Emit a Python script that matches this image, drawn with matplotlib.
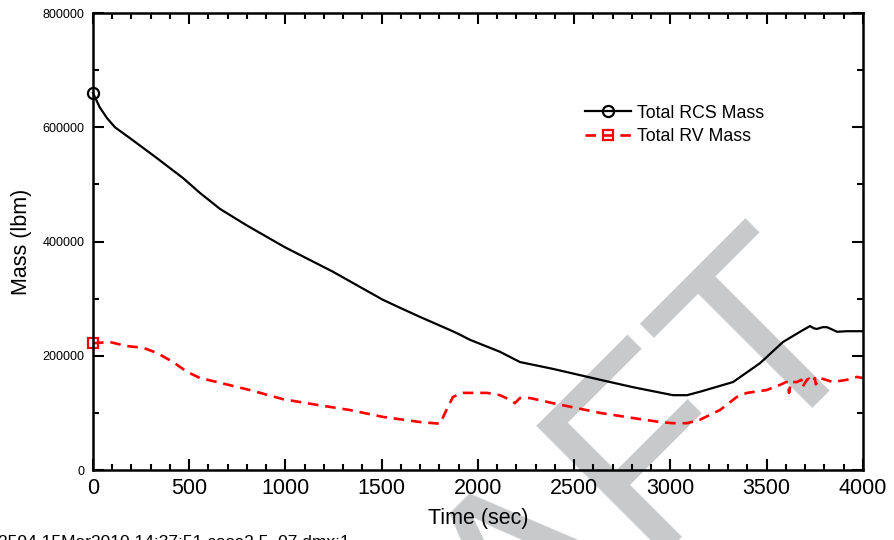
import numpy as np
import matplotlib
matplotlib.use("Agg")
import matplotlib.pyplot as plt
from matplotlib.legend_handler import HandlerLine2D
from matplotlib.lines import Line2D
from matplotlib.ticker import MultipleLocator

plt.rcParams["font.family"] = ["Liberation Sans", "DejaVu Sans"]

# Total RCS mass (lbm) vs time (sec)
rcs_time = [0, 35, 73, 114, 192, 332, 468, 556, 660, 800, 997, 1247, 1506,
            1595, 1699, 1855, 1900, 1958, 2114, 2218, 2390, 2634, 2805, 3013,
            3086, 3153, 3325, 3465, 3584, 3673, 3725, 3745, 3761, 3790, 3813,
            3840, 3865, 3917, 4000]
rcs_mass = [660000, 635000, 616000, 600000, 581000, 546000, 511000, 485000,
            457000, 428000, 390000, 347000, 298000, 284000, 268000, 245000,
            238000, 228000, 207000, 189000, 177000, 158000, 145000, 131000,
            131000, 137000, 154000, 187000, 224000, 242000, 252000, 248000,
            247000, 250000, 250000, 246000, 242000, 243000, 243000]

# Total RV mass (lbm) vs time (sec)
rv_time = [0, 88, 176, 260, 332, 416, 488, 556, 644, 815, 987, 1164, 1335,
           1506, 1699, 1803, 1829, 1870, 1922, 2047, 2114, 2166, 2192, 2218,
           2270, 2390, 2634, 2805, 2945, 3013, 3086, 3153, 3257, 3345, 3397,
           3500, 3569, 3600, 3610, 3616, 3625, 3657, 3680, 3685, 3709, 3720,
           3735, 3750, 3755, 3777, 3844, 3917, 3969, 4000]
rv_mass = [222000, 224000, 217000, 214000, 205000, 189000, 172000, 161000,
           154000, 140000, 124000, 114000, 105000, 93000, 84000, 81000, 100000,
           128000, 135000, 135000, 131000, 123000, 117000, 126000, 126000,
           117000, 100000, 91000, 84000, 82000, 82000, 88000, 105000, 128000,
           135000, 140000, 149000, 154000, 154000, 135000, 154000, 154000,
           158000, 145000, 158000, 160000, 154000, 161000, 150000, 161000,
           154000, 158000, 163000, 161000]


class EndMarkerHandler(HandlerLine2D):
    """Legend sample with the marker sitting at the right end of the line."""

    def get_xdata(self, legend, xdescent, ydescent, width, height, fontsize):
        xdata = [-xdescent, -xdescent + width]
        return xdata, [-xdescent + width]


fig = plt.figure(figsize=(8.94, 5.40), dpi=100)
ax = fig.add_axes([0.104, 0.1296, 0.8613, 0.8463])
ax.set_facecolor("none")

ax.plot(rcs_time, rcs_mass, color="black", lw=1.6, marker="o",
        markevery=[0], ms=8, mfc="none", mec="black", mew=1.6,
        clip_on=False, label="Total RCS Mass")
ax.plot(rv_time, rv_mass, color="#ff0000", lw=1.9, ls=(0, (4, 2.6)),
        marker="s", markevery=[0], ms=6.5, mfc="none", mec="#ff0000",
        mew=1.6, clip_on=False, label="Total RV Mass")

ax.set_xlim(0, 4000)
ax.set_ylim(0, 800000)
ax.xaxis.set_major_locator(MultipleLocator(500))
ax.xaxis.set_minor_locator(MultipleLocator(100))
ax.yaxis.set_major_locator(MultipleLocator(200000))
ax.yaxis.set_minor_locator(MultipleLocator(100000))
ax.tick_params(which="both", direction="in", top=True, right=True,
               width=1.5, color="black")
ax.tick_params(which="major", length=8)
ax.tick_params(which="minor", length=4)
ax.tick_params(axis="x", labelsize=15.5, pad=6)
ax.tick_params(axis="y", labelsize=9, pad=6)
for s in ax.spines.values():
    s.set_linewidth(1.8)

ax.set_xlabel("Time (sec)", fontsize=15.5, labelpad=6)
ax.set_ylabel("Mass (lbm)", fontsize=15.5, labelpad=8)

ax.legend(loc="upper left", bbox_to_anchor=(0.63, 0.815), frameon=False,
          fontsize=12.8, handlelength=2.6, handletextpad=0.3,
          labelspacing=0.35, borderaxespad=0,
          handler_map={Line2D: EndMarkerHandler()})

# run stamp along the bottom edge
fig.text(-0.002, -0.012, "2594 15Mar2010 14:37:51 case2.5_07.dmx:1",
         fontsize=12.5, ha="left", va="baseline")

# draft watermark behind the data
fig.text(0.975, 0.396, "DRAFT", fontsize=190, color="#c8c9ca",
         rotation=45, rotation_mode="anchor", ha="right", va="baseline",
         zorder=-1)

fig.savefig("out.png", dpi=100)
